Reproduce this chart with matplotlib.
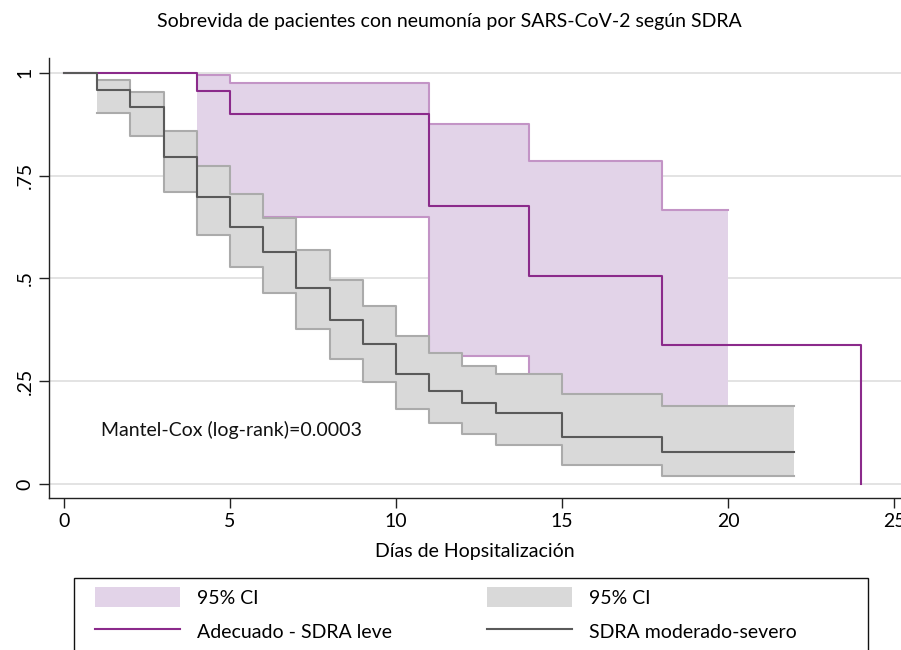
import matplotlib
matplotlib.use("Agg")
import matplotlib.pyplot as plt
from matplotlib.patches import Patch, Rectangle
from matplotlib.lines import Line2D

plt.rcParams['font.family'] = ['Lato', 'DejaVu Sans']

# ---- data ----
title = "Sobrevida de pacientes con neumonía por SARS-CoV-2 según SDRA"
xlabel = "Días de Hopsitalización"
xticks = [0, 5, 10, 15, 20, 25]
yticks = [0, 0.25, 0.5, 0.75, 1]
yticklabels = ["0", ".25", ".5", ".75", "1"]
annot = "Mantel-Cox (log-rank)=0.0003"

# Group 1: Adecuado - SDRA leve
leve_t = [0, 4, 5, 11, 14, 18, 24]
leve_s = [1.0, 0.955, 0.899, 0.675, 0.505, 0.337, 0.0]
leve_ci_t = [4, 5, 11, 14, 18, 20]
leve_ci_hi = [0.994, 0.975, 0.875, 0.786, 0.666, 0.666]
leve_ci_lo = [0.71, 0.650, 0.311, 0.19, 0.07, 0.07]

# Group 2: SDRA moderado-severo
sev_t = [0, 1, 2, 3, 4, 5, 6, 7, 8, 9, 10, 11, 12, 13, 15, 18, 22]
sev_s = [1.0, 0.957, 0.916, 0.796, 0.698, 0.624, 0.564, 0.476, 0.399, 0.340,
         0.268, 0.227, 0.197, 0.172, 0.115, 0.077, 0.077]
sev_ci_t = [1, 2, 3, 4, 5, 6, 7, 8, 9, 10, 11, 12, 13, 15, 18, 22]
sev_ci_hi = [0.983, 0.953, 0.859, 0.773, 0.706, 0.648, 0.569, 0.495, 0.433,
             0.360, 0.318, 0.288, 0.268, 0.218, 0.190, 0.190]
sev_ci_lo = [0.902, 0.847, 0.710, 0.605, 0.527, 0.464, 0.377, 0.304, 0.247,
             0.182, 0.148, 0.121, 0.095, 0.046, 0.019, 0.019]

labels = ["Adecuado - SDRA leve", "SDRA moderado-severo"]

# ---- styles ----
PURPLE = "#8b2a8b"
PURPLE_FILL = "#e2d3e8"
PURPLE_EDGE = "#c394c6"
GREY = "#5a5a5a"
GREY_FILL = "#d9d9d9"
GREY_EDGE = "#ababab"
FS = 14
EM = FS * 100 / 72.0

fig = plt.figure(figsize=(9.01, 6.5), dpi=100)
W, H = 901, 650
ax = fig.add_axes([49 / W, 1 - 498 / H, 852 / W, 440 / H])

ax.set_xlim(-0.452, 25.21)
ax.set_ylim(-0.034, 1.036)

for y in yticks:
    ax.axhline(y, color="#dedede", lw=1.2, zorder=0)

# CI bands
ax.fill_between(leve_ci_t, leve_ci_lo, leve_ci_hi, step="post",
                facecolor=PURPLE_FILL, edgecolor="none", lw=0, zorder=1)
ax.step(leve_ci_t, leve_ci_hi, where="post", color=PURPLE_EDGE, lw=1.5, zorder=1.1)
ax.step(leve_ci_t, leve_ci_lo, where="post", color=PURPLE_EDGE, lw=1.5, zorder=1.1)

ax.fill_between(sev_ci_t, sev_ci_lo, sev_ci_hi, step="post",
                facecolor=GREY_FILL, edgecolor="none", lw=0, zorder=2)
ax.step(sev_ci_t, sev_ci_hi, where="post", color=GREY_EDGE, lw=1.5, zorder=2.1)
ax.step(sev_ci_t, sev_ci_lo, where="post", color=GREY_EDGE, lw=1.5, zorder=2.1)

# survival curves
ax.step(leve_t, leve_s, where="post", color=PURPLE, lw=1.5, zorder=3)
ax.step(sev_t, sev_s, where="post", color=GREY, lw=1.5, zorder=3.1)

ax.text(1.12, 0.131, annot, fontsize=FS, va="center", ha="left", color="#111111")

# axes styling
for s in ["top", "right"]:
    ax.spines[s].set_visible(False)
for s in ["left", "bottom"]:
    ax.spines[s].set_color("#222222")
    ax.spines[s].set_linewidth(1.0)
ax.set_xticks(xticks)
ax.set_xticklabels([str(v) for v in xticks], fontsize=FS)
ax.set_yticks(yticks)
ax.set_yticklabels(yticklabels, fontsize=FS, rotation=90, va="center")
ax.tick_params(axis="both", direction="out", length=7, width=1.0, color="#222222")
ax.tick_params(axis="x", pad=4)
ax.tick_params(axis="y", pad=4)
ax.set_xlabel(xlabel, fontsize=FS, labelpad=9)

fig.text(449 / W, 1 - 22 / H, title, fontsize=FS, ha="center", va="center")

# legend
fig.patches.append(Rectangle((74 / W, -0.05), (868 - 74) / W, (1 - 578 / H) + 0.05,
                             transform=fig.transFigure, fill=False,
                             edgecolor="#111111", lw=1.0))
common = dict(frameon=False, loc="upper left", borderpad=0, borderaxespad=0,
              fontsize=FS, handlelength=85 / EM, handleheight=24 / EM,
              handletextpad=17 / EM, labelspacing=0.7)
leg1 = fig.legend([Patch(facecolor=PURPLE_FILL, edgecolor="none"),
                   Line2D([], [], color=PURPLE, lw=1.5)],
                  ["95% CI", labels[0]],
                  bbox_to_anchor=(95 / W, 1 - 587 / H), **common)
leg2 = fig.legend([Patch(facecolor=GREY_FILL, edgecolor="none"),
                   Line2D([], [], color=GREY, lw=1.5)],
                  ["95% CI", labels[1]],
                  bbox_to_anchor=(487 / W, 1 - 587 / H), **common)

fig.savefig("out.png", dpi=100)
